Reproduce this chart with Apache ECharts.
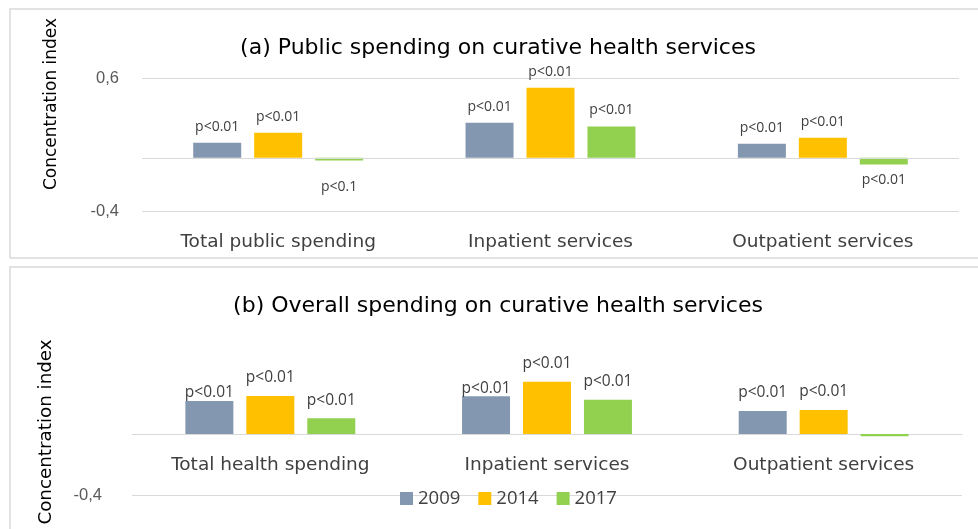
<!DOCTYPE html>
<html>
<head>
<meta charset="utf-8">
<script src="https://cdn.jsdelivr.net/npm/echarts@6/dist/echarts.min.js"></script>
<style>
  html, body { margin: 0; padding: 0; background: #fff; }
  #main { width: 978px; height: 529px; }
</style>
</head>
<body>
<div id="main"></div>
<script>
// 数据
var years = ['2009', '2014', '2017'];
var catsA = ['Total public spending', 'Inpatient services', 'Outpatient services'];
var catsB = ['Total health spending', 'Inpatient services', 'Outpatient services'];

// (a) public spending
var a2009 = [0.113, 0.263, 0.105];
var a2014 = [0.188, 0.526, 0.150];
var a2017 = [-0.020, 0.235, -0.050];
var pA2009 = ['p<0.01', 'p<0.01', 'p<0.01'];
var pA2014 = ['p<0.01', 'p<0.01', 'p<0.01'];
var pA2017 = ['p<0.1', 'p<0.01', 'p<0.01'];

// (b) overall spending
var b2009 = [0.216, 0.247, 0.151];
var b2014 = [0.249, 0.343, 0.157];
var b2017 = [0.103, 0.225, -0.015];
var pB2009 = ['p<0.01', 'p<0.01', 'p<0.01'];
var pB2014 = ['p<0.01', 'p<0.01', 'p<0.01'];
var pB2017 = ['p<0.01', 'p<0.01', ''];

var yTicks = [-0.4, 0.6];

var colors = ['#8497B0', '#FFC000', '#92D050'];
var mainFont = 'Open Sans';
var wideFont = 'DejaVu Sans';

var myChart = echarts.init(document.getElementById('main'));

// 柱子 + 标签
function barSeries(name, values, pvals, idx, fontSize, dist) {
    var data = values.map(function (v, i) {
        return {
            value: v,
            label: {
                position: v < 0 ? 'bottom' : 'top',
                distance: dist[i]
            }
        };
    });
    return {
        name: name,
        type: 'bar',
        xAxisIndex: idx,
        yAxisIndex: idx,
        barWidth: 48,
        barGap: '27%',
        data: data,
        itemStyle: { color: colors[years.indexOf(name)] },
        label: {
            show: true,
            color: '#404040',
            fontFamily: mainFont,
            fontSize: fontSize,
            formatter: function (p) { return pvals[p.dataIndex]; }
        }
    };
}

function yLabel(v) {
    return v.toFixed(1).replace('.', ',');
}

var s0 = barSeries('2009', a2009, pA2009, 0, 14, [9, 9, 9]);
s0.markLine = {
    silent: true,
    symbol: 'none',
    label: { show: false },
    lineStyle: { color: '#d9d9d9', type: 'solid', width: 1 },
    data: [{ yAxis: 0 }]
};

option = {
    animation: false,
    backgroundColor: '#fff',
    graphic: [
        { type: 'rect', shape: { x: 10, y: 9, width: 990, height: 249 },
          style: { fill: 'none', stroke: '#d9d9d9', lineWidth: 1.5 } },
        { type: 'rect', shape: { x: 10, y: 267, width: 990, height: 300 },
          style: { fill: 'none', stroke: '#d9d9d9', lineWidth: 1.5 } },
        { type: 'text', x: 52, y: 104, rotation: Math.PI / 2,
          style: { text: 'Concentration index', fill: '#000', font: '17px "DejaVu Sans"',
                   textAlign: 'center', textVerticalAlign: 'middle' } },
        { type: 'text', x: 46, y: 432, rotation: Math.PI / 2,
          style: { text: 'Concentration index', fill: '#000', font: '18.3px "DejaVu Sans"',
                   textAlign: 'center', textVerticalAlign: 'middle' } }
    ],
    title: [
        { text: '(a) Public spending on curative health services', left: 498, top: 37,
          textAlign: 'center', padding: 0,
          textStyle: { fontFamily: wideFont, fontSize: 22, fontWeight: 'normal', color: '#000' } },
        { text: '(b) Overall spending on curative health services', left: 498, top: 295,
          textAlign: 'center', padding: 0,
          textStyle: { fontFamily: wideFont, fontSize: 22, fontWeight: 'normal', color: '#000' } }
    ],
    legend: {
        data: years,
        left: 400,
        top: 489,
        padding: 0,
        icon: 'rect',
        itemWidth: 13,
        itemHeight: 13,
        itemGap: 18,
        textStyle: { fontFamily: mainFont, fontSize: 18.5, color: '#404040' }
    },
    grid: [
        { left: 142, right: 19, top: 78, height: 133 },
        { left: 132, right: 16, top: 342.5, height: 152.5 }
    ],
    xAxis: [
        { type: 'category', gridIndex: 0, data: catsA,
          axisLine: { show: false, onZero: false }, axisTick: { show: false },
          axisLabel: { margin: 21.5, color: '#404040', fontFamily: wideFont, fontSize: 18.5 } },
        { type: 'category', gridIndex: 1, data: catsB,
          axisLine: { show: true, onZero: true, lineStyle: { color: '#d9d9d9', width: 1 } },
          axisTick: { show: false },
          axisLabel: { margin: -39.5, color: '#404040', fontFamily: wideFont, fontSize: 18.5 } }
    ],
    yAxis: [
        { type: 'value', gridIndex: 0, min: yTicks[0], max: yTicks[1], interval: 1,
          axisLine: { show: false }, axisTick: { show: false },
          splitLine: { lineStyle: { color: '#d9d9d9', width: 1 } },
          axisLabel: { margin: 23, color: '#595959', fontFamily: 'Liberation Sans', fontSize: 16.5,
                       formatter: yLabel } },
        { type: 'value', gridIndex: 1, min: yTicks[0], max: yTicks[1], interval: 1,
          axisLine: { show: false }, axisTick: { show: false },
          splitLine: { showMaxLine: false, lineStyle: { color: '#d9d9d9', width: 1 } },
          axisLabel: { margin: 30, showMaxLabel: false, color: '#595959', fontFamily: 'Liberation Sans',
                       fontSize: 16.5, formatter: yLabel } }
    ],
    series: [
        s0,
        barSeries('2014', a2014, pA2014, 0, 14, [9, 9, 9]),
        barSeries('2017', a2017, pA2017, 0, 14, [20, 10, 9]),
        barSeries('2009', b2009, pB2009, 1, 15.5, [0, 0, 10]),
        barSeries('2014', b2014, pB2014, 1, 15.5, [10, 10, 10]),
        barSeries('2017', b2017, pB2017, 1, 15.5, [10, 10, 10])
    ]
};

myChart.setOption(option);
</script>
</body>
</html>
